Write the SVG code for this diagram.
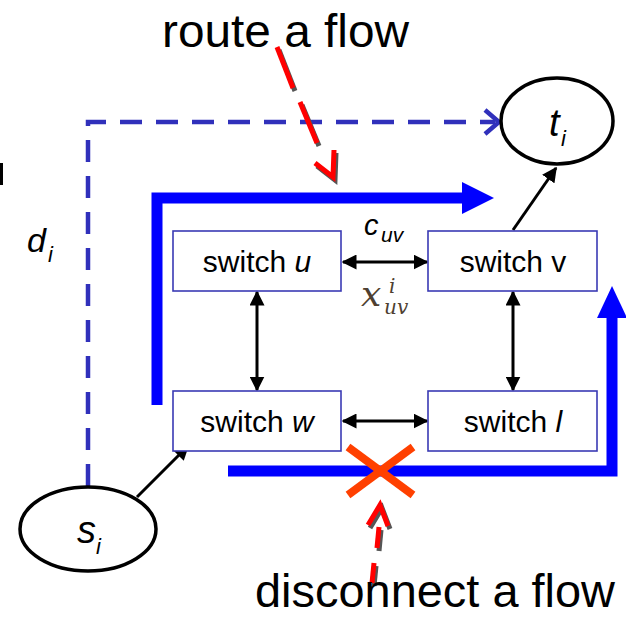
<svg xmlns="http://www.w3.org/2000/svg" width="626" height="618" viewBox="0 0 626 618">
<defs>
<style>
.box{fill:#fff;stroke:#3a3ab4;stroke-width:1.6}
.lbl{font-family:"Liberation Sans",Arial,sans-serif;fill:#000}
.sw{font-size:30px;text-anchor:middle}
.it{font-style:italic}
.node{fill:#fff;stroke:#000;stroke-width:3.5}
.blk{stroke:#000;stroke-width:3;fill:none}
.thick{stroke:#0000ff;stroke-width:11;fill:none;stroke-linejoin:miter}
.dash{stroke:#3030bb;stroke-width:4.5;fill:none;stroke-dasharray:22 14}
.red{stroke:#ff0000;stroke-width:5;fill:none;stroke-linecap:butt}
.shadow{stroke:#555;stroke-width:5;fill:none}
.math{font-family:"DejaVu Serif","Liberation Serif",serif;font-style:italic;fill:#4e3f31}
</style>
<marker id="ah" viewBox="0 0 10 10" refX="9" refY="5" markerWidth="5" markerHeight="5" orient="auto-start-reverse" markerUnits="strokeWidth">
<path d="M0,0 L10,5 L0,10 z" fill="#000"/>
</marker>
</defs>
<rect width="626" height="618" fill="#fff"/>
<rect x="0" y="163" width="3" height="22" fill="#000"/>

<g id="connectors">
<path class="dash" d="M88,486 V122 H495"/>
<polyline points="485,110 499,122 485,134" fill="none" stroke="#3030bb" stroke-width="4.5"/>
<path class="thick" d="M157,405 V198 H464"/>
<polygon points="462,182 494,198 462,214" fill="#0000ff"/>
<path class="thick" d="M228,471 H612 V318"/>
<polygon points="597,318 612,286 627,318" fill="#0000ff"/>
<line class="blk" x1="343" y1="262" x2="427" y2="262" marker-start="url(#ah)" marker-end="url(#ah)"/>
<line class="blk" x1="343" y1="421" x2="427" y2="421" marker-start="url(#ah)" marker-end="url(#ah)"/>
<line class="blk" x1="257" y1="292" x2="257" y2="390" marker-start="url(#ah)" marker-end="url(#ah)"/>
<line class="blk" x1="513" y1="292" x2="513" y2="390" marker-start="url(#ah)" marker-end="url(#ah)"/>
<line class="blk" x1="513" y1="230" x2="556" y2="168" marker-end="url(#ah)"/>
<line class="blk" x1="137" y1="497" x2="188" y2="446" marker-end="url(#ah)"/>
</g>

<g id="route-arrow">
<g transform="translate(2,3)">
<line class="shadow" x1="277" y1="47" x2="293" y2="88"/>
<line class="shadow" x1="300" y1="102" x2="317" y2="143"/>
<polyline class="shadow" points="315,163 333,177 334,150"/>
</g>
<line class="red" x1="277" y1="47" x2="293" y2="88"/>
<line class="red" x1="300" y1="102" x2="317" y2="143"/>
<polyline class="red" points="315,163 333,177 334,150"/>
</g>

<g id="disconnect-arrow">
<g transform="translate(2,3)">
<polyline class="shadow" points="368,525 380,505 388,526"/>
<line class="shadow" x1="379" y1="527" x2="377" y2="548"/>
<line class="shadow" x1="374" y1="563" x2="372" y2="583"/>
</g>
<polyline class="red" points="368,525 380,505 388,526"/>
<line class="red" x1="379" y1="527" x2="377" y2="548"/>
<line class="red" x1="374" y1="563" x2="372" y2="583"/>
</g>

<g id="cross">
<line x1="348" y1="447" x2="413" y2="495" stroke="#ff4000" stroke-width="8"/>
<line x1="413" y1="447" x2="348" y2="495" stroke="#ff4000" stroke-width="8"/>
</g>

<g id="node-u">
<rect class="box" x="173" y="231" width="168" height="60"/>
<text class="lbl sw" x="257" y="272">switch <tspan class="it">u</tspan></text>
</g>
<g id="node-v">
<rect class="box" x="428" y="231" width="169" height="60"/>
<text class="lbl sw" x="513" y="272">switch v</text>
</g>
<g id="node-w">
<rect class="box" x="173" y="391" width="168" height="60"/>
<text class="lbl sw" x="257" y="432">switch <tspan class="it">w</tspan></text>
</g>
<g id="node-l">
<rect class="box" x="428" y="391" width="169" height="60"/>
<text class="lbl sw" x="513" y="432">switch <tspan class="it">l</tspan></text>
</g>

<g id="node-t">
<ellipse class="node" cx="557" cy="121" rx="56" ry="43"/>
<text class="lbl it" x="549" y="136" font-size="38">t<tspan x="561" y="146" font-size="22">i</tspan></text>
</g>
<g id="node-s">
<ellipse class="node" cx="88" cy="529" rx="68" ry="42"/>
<text class="lbl it" x="77" y="543" font-size="38">s<tspan x="96" y="554" font-size="22">i</tspan></text>
</g>

<g id="labels">
<text class="lbl" x="162" y="47" font-size="47" textLength="247" lengthAdjust="spacingAndGlyphs">route a flow</text>
<text class="lbl" x="255" y="607" font-size="47" textLength="360" lengthAdjust="spacingAndGlyphs">disconnect a flow</text>
<text class="lbl it" x="27" y="252" font-size="34">d<tspan x="48" y="262" font-size="22">i</tspan></text>
<text class="lbl it" x="364" y="235" font-size="29">c<tspan x="381" y="242" font-size="21">uv</tspan></text>
<text class="math" x="361" y="306" font-size="36">x<tspan x="389" y="293" font-size="20">i</tspan><tspan x="384" y="314" font-size="20">uv</tspan></text>
</g>
</svg>
